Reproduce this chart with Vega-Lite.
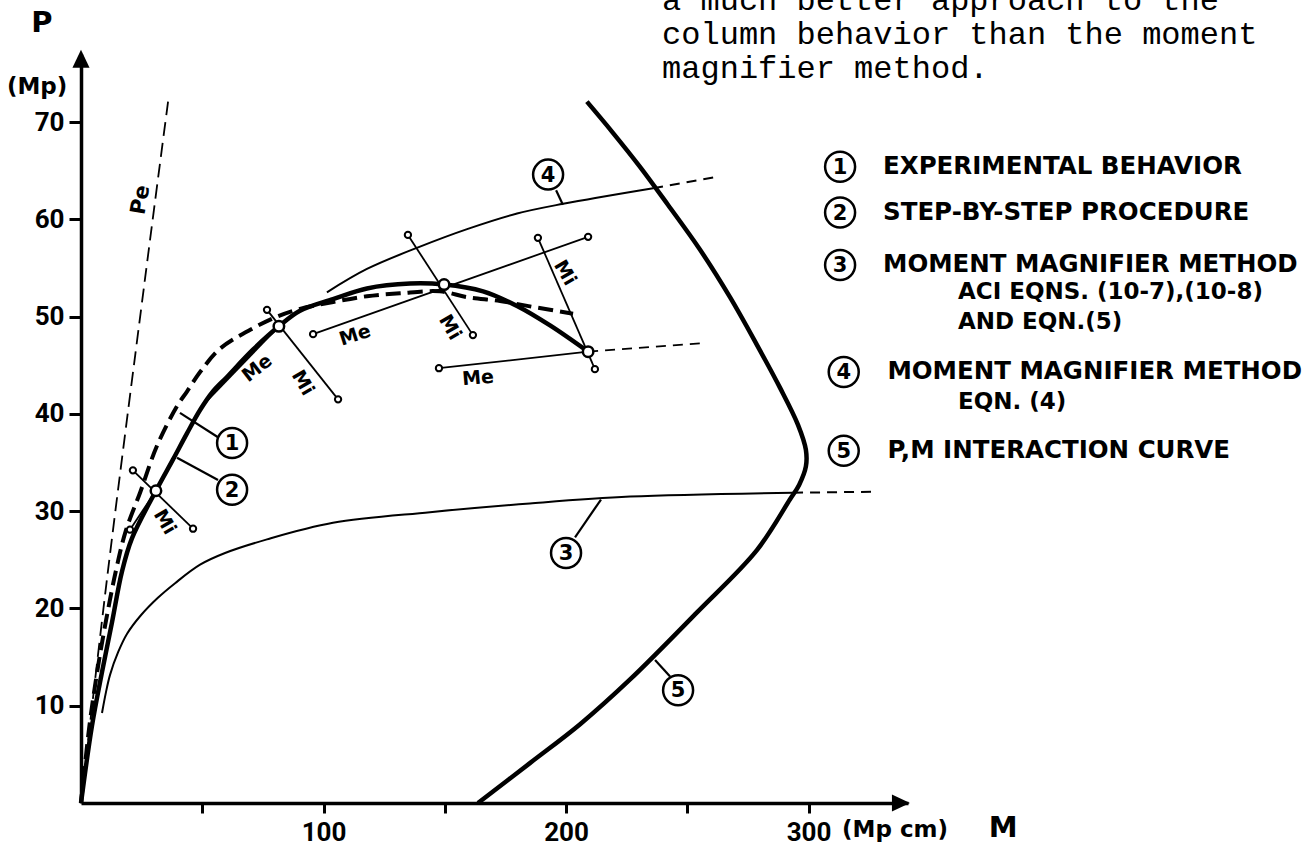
{
  "$schema": "https://vega.github.io/schema/vega-lite/v6.json",
  "width": 827,
  "height": 749,
  "autosize": "none",
  "padding": {"left": 81, "top": 54, "right": 408, "bottom": 43},
  "background": "white",
  "config": {"view": {"stroke": null}, "font": "Roboto"},
  "datasets": {
    "curves": [
      {"s": "pe", "o": 0, "x": 0, "y": 0}, {"s": "pe", "o": 1, "x": 10.7, "y": 23}, {"s": "pe", "o": 2, "x": 26.4, "y": 53.9}, {"s": "pe", "o": 3, "x": 35.9, "y": 72.1},
      {"s": "exp", "o": 0, "x": 0, "y": 0}, {"s": "exp", "o": 1, "x": 3.5, "y": 8}, {"s": "exp", "o": 2, "x": 7, "y": 14}, {"s": "exp", "o": 3, "x": 10.5, "y": 19}, {"s": "exp", "o": 4, "x": 14.5, "y": 24}, {"s": "exp", "o": 5, "x": 18.5, "y": 28}, {"s": "exp", "o": 6, "x": 24.5, "y": 32}, {"s": "exp", "o": 7, "x": 31.3, "y": 36.7}, {"s": "exp", "o": 8, "x": 39.6, "y": 40.8}, {"s": "exp", "o": 9, "x": 43.7, "y": 42.3}, {"s": "exp", "o": 10, "x": 49.1, "y": 44.3}, {"s": "exp", "o": 11, "x": 57.3, "y": 46.7}, {"s": "exp", "o": 12, "x": 70.9, "y": 48.8}, {"s": "exp", "o": 13, "x": 80.8, "y": 50.0}, {"s": "exp", "o": 14, "x": 90.3, "y": 50.8}, {"s": "exp", "o": 15, "x": 104, "y": 51.5}, {"s": "exp", "o": 16, "x": 117.9, "y": 52.1}, {"s": "exp", "o": 17, "x": 131.5, "y": 52.4}, {"s": "exp", "o": 18, "x": 148, "y": 52.6}, {"s": "exp", "o": 19, "x": 159.2, "y": 52.0}, {"s": "exp", "o": 20, "x": 172.8, "y": 51.6}, {"s": "exp", "o": 21, "x": 186.4, "y": 51.0}, {"s": "exp", "o": 22, "x": 202.9, "y": 50.3},
      {"s": "step", "o": 0, "x": 0, "y": 0}, {"s": "step", "o": 1, "x": 4.5, "y": 7.9}, {"s": "step", "o": 2, "x": 8.7, "y": 13.5}, {"s": "step", "o": 3, "x": 12.8, "y": 18.6}, {"s": "step", "o": 4, "x": 16.9, "y": 23.8}, {"s": "step", "o": 5, "x": 21.0, "y": 27.2}, {"s": "step", "o": 6, "x": 30.9, "y": 32.1}, {"s": "step", "o": 7, "x": 37.9, "y": 35.3}, {"s": "step", "o": 8, "x": 43.7, "y": 38.0}, {"s": "step", "o": 9, "x": 49.1, "y": 40.4}, {"s": "step", "o": 10, "x": 54.4, "y": 42.3}, {"s": "step", "o": 11, "x": 60.2, "y": 43.8}, {"s": "step", "o": 12, "x": 70.9, "y": 46.6}, {"s": "step", "o": 13, "x": 81.6, "y": 49.0}, {"s": "step", "o": 14, "x": 90.3, "y": 50.6}, {"s": "step", "o": 15, "x": 103.9, "y": 51.8}, {"s": "step", "o": 16, "x": 117.9, "y": 52.9}, {"s": "step", "o": 17, "x": 135.7, "y": 53.4}, {"s": "step", "o": 18, "x": 149.7, "y": 53.3}, {"s": "step", "o": 19, "x": 165.8, "y": 52.6}, {"s": "step", "o": 20, "x": 179.8, "y": 51.1}, {"s": "step", "o": 21, "x": 193.4, "y": 49.1}, {"s": "step", "o": 22, "x": 209.1, "y": 46.4},
      {"s": "c3", "o": 0, "x": 8.66, "y": 9.25}, {"s": "c3", "o": 1, "x": 10.3, "y": 11.4}, {"s": "c3", "o": 2, "x": 12.0, "y": 13.2}, {"s": "c3", "o": 3, "x": 15.3, "y": 15.5}, {"s": "c3", "o": 4, "x": 19.0, "y": 17.4}, {"s": "c3", "o": 5, "x": 24.7, "y": 19.3}, {"s": "c3", "o": 6, "x": 31.7, "y": 21.1}, {"s": "c3", "o": 7, "x": 38.8, "y": 22.6}, {"s": "c3", "o": 8, "x": 49.1, "y": 24.5}, {"s": "c3", "o": 9, "x": 59.4, "y": 25.7}, {"s": "c3", "o": 10, "x": 76.7, "y": 27.1}, {"s": "c3", "o": 11, "x": 103.9, "y": 28.8}, {"s": "c3", "o": 12, "x": 143.9, "y": 29.9}, {"s": "c3", "o": 13, "x": 185.1, "y": 30.8}, {"s": "c3", "o": 14, "x": 226.4, "y": 31.5}, {"s": "c3", "o": 15, "x": 293.6, "y": 31.9},
      {"s": "c3d", "o": 0, "x": 293.6, "y": 31.9}, {"s": "c3d", "o": 1, "x": 328.2, "y": 32.0},
      {"s": "c4", "o": 0, "x": 101.4, "y": 52.5}, {"s": "c4", "o": 1, "x": 117.9, "y": 54.9}, {"s": "c4", "o": 2, "x": 139.8, "y": 57.2}, {"s": "c4", "o": 3, "x": 159.2, "y": 59.0}, {"s": "c4", "o": 4, "x": 179.8, "y": 60.6}, {"s": "c4", "o": 5, "x": 198.8, "y": 61.6}, {"s": "c4", "o": 6, "x": 235.9, "y": 63.2},
      {"s": "c4d", "o": 0, "x": 235.9, "y": 63.2}, {"s": "c4d", "o": 1, "x": 262.7, "y": 64.4},
      {"s": "c5", "o": 0, "x": 163.7, "y": 0}, {"s": "c5", "o": 1, "x": 185.1, "y": 4.1}, {"s": "c5", "o": 2, "x": 205.8, "y": 8.1}, {"s": "c5", "o": 3, "x": 226.4, "y": 12.7}, {"s": "c5", "o": 4, "x": 254.0, "y": 19.6}, {"s": "c5", "o": 5, "x": 278.7, "y": 26.0}, {"s": "c5", "o": 6, "x": 292.3, "y": 31.2}, {"s": "c5", "o": 7, "x": 296.1, "y": 32.7}, {"s": "c5", "o": 8, "x": 298.9, "y": 34.6}, {"s": "c5", "o": 9, "x": 298.9, "y": 36.3}, {"s": "c5", "o": 10, "x": 295.6, "y": 38.9}, {"s": "c5", "o": 11, "x": 288.2, "y": 42.7}, {"s": "c5", "o": 12, "x": 278.7, "y": 47.1}, {"s": "c5", "o": 13, "x": 267.6, "y": 52.0}, {"s": "c5", "o": 14, "x": 255.2, "y": 56.9}, {"s": "c5", "o": 15, "x": 242.0, "y": 61.5}, {"s": "c5", "o": 16, "x": 230.5, "y": 65.4}, {"s": "c5", "o": 17, "x": 219.0, "y": 69.0}, {"s": "c5", "o": 18, "x": 208.6, "y": 72.1}
    ],
    "segs": [
      {"k": "solid", "x": 21.4, "y": 34.2, "x2": 46.2, "y2": 28.2},
      {"k": "solid", "x": 20.2, "y": 28.1, "x2": 30.9, "y2": 32.1},
      {"k": "solid", "x": 76.7, "y": 50.7, "x2": 106.0, "y2": 41.5},
      {"k": "solid", "x": 49.1, "y": 40.6, "x2": 81.6, "y2": 49.0},
      {"k": "solid", "x": 134.8, "y": 58.4, "x2": 161.6, "y2": 48.1},
      {"k": "solid", "x": 95.7, "y": 48.2, "x2": 209.1, "y2": 58.2},
      {"k": "solid", "x": 188.4, "y": 58.1, "x2": 211.9, "y2": 44.6},
      {"k": "solid", "x": 147.6, "y": 44.7, "x2": 209.1, "y2": 46.4},
      {"k": "dash", "x": 209.1, "y": 46.4, "x2": 257.3, "y2": 47.3},
      {"k": "lead", "x": 56.5, "y": 37.6, "x2": 40.8, "y2": 40.1},
      {"k": "lead", "x": 56.5, "y": 33.2, "x2": 39.6, "y2": 35.5},
      {"k": "lead", "x": 203.7, "y": 27.3, "x2": 214.4, "y2": 31.2},
      {"k": "lead", "x": 195.9, "y": 63.0, "x2": 198.7, "y2": 61.5},
      {"k": "lead", "x": 242.9, "y": 13.0, "x2": 236.7, "y2": 14.7}
    ],
    "dots": [
      {"x": 21.4, "y": 34.2}, {"x": 46.2, "y": 28.2}, {"x": 20.2, "y": 28.1}, {"x": 76.7, "y": 50.7}, {"x": 106.0, "y": 41.5}, {"x": 134.8, "y": 58.4}, {"x": 161.6, "y": 48.1}, {"x": 95.7, "y": 48.2}, {"x": 209.1, "y": 58.2}, {"x": 188.4, "y": 58.1}, {"x": 211.9, "y": 44.6}, {"x": 147.6, "y": 44.7}
    ],
    "bigdots": [
      {"x": 30.9, "y": 32.1}, {"x": 81.6, "y": 49.0}, {"x": 149.7, "y": 53.3}, {"x": 209.1, "y": 46.4}
    ],
    "numbers": [
      {"x": 62.3, "y": 37.0, "t": "1"}, {"x": 62.3, "y": 32.2, "t": "2"}, {"x": 200.0, "y": 25.7, "t": "3"}, {"x": 192.6, "y": 64.6, "t": "4"}, {"x": 246.2, "y": 11.6, "t": "5"},
      {"x": 313.0, "y": 65.4, "t": "1"}, {"x": 313.0, "y": 60.7, "t": "2"}, {"x": 313.0, "y": 55.3, "t": "3"}, {"x": 314.5, "y": 44.3, "t": "4"}, {"x": 314.5, "y": 36.2, "t": "5"}
    ],
    "legend": [
      {"x": 330.7, "y": 65.4, "t": "EXPERIMENTAL  BEHAVIOR"},
      {"x": 330.7, "y": 60.7, "t": "STEP-BY-STEP PROCEDURE"},
      {"x": 330.7, "y": 55.3, "t": "MOMENT MAGNIFIER METHOD"},
      {"x": 332.5, "y": 44.3, "t": "MOMENT MAGNIFIER METHOD"},
      {"x": 332.5, "y": 36.2, "t": "P,M  INTERACTION CURVE"}
    ],
    "legend2": [
      {"x": 361.6, "y": 52.5, "t": "ACI EQNS. (10-7),(10-8)"},
      {"x": 361.6, "y": 49.5, "t": "AND EQN.(5)"},
      {"x": 361.6, "y": 41.2, "t": "EQN. (4)"}
    ],
    "para": [
      {"x": 239.6, "y": 81.5, "t": "a much better approach to the"},
      {"x": 239.6, "y": 78.0, "t": "column behavior than the moment"},
      {"x": 239.6, "y": 74.5, "t": "magnifier method."}
    ],
    "mi": [
      {"x": 34.6, "y": 28.9, "t": "Mi"}, {"x": 91.5, "y": 43.2, "t": "Mi"}, {"x": 152.2, "y": 48.9, "t": "Mi"}, {"x": 199.6, "y": 54.5, "t": "Mi"}
    ],
    "me1": [{"x": 72.6, "y": 44.7, "t": "Me"}],
    "me2": [{"x": 113.0, "y": 48.1, "t": "Me"}],
    "me3": [{"x": 163.7, "y": 43.7, "t": "Me"}],
    "pe": [{"x": 24.7, "y": 62.0, "t": "Pe"}],
    "titles": [
      {"x": -16.1, "y": 80.2, "t": "P", "k": "big"},
      {"x": -18.1, "y": 73.6, "t": "(Mp)", "k": "small"},
      {"x": 380.2, "y": -2.6, "t": "M", "k": "big"}
    ],
    "unit": [{"x": 313.8, "y": -2.8, "t": "(Mp cm)"}],
    "arrows": [{"x": 0, "y": 76.5, "k": "up"}, {"x": 338.1, "y": 0, "k": "right"}]
  },
  "encoding": {
    "x": {
      "field": "x", "type": "quantitative",
      "scale": {"domain": [0, 341], "nice": false, "zero": false},
      "axis": {
        "values": [50, 100, 150, 200, 250, 300],
        "labelExpr": "datum.value % 100 === 0 ? datum.label : ''",
        "title": null, "grid": false,
        "domainWidth": 3.5, "domainColor": "black",
        "tickColor": "black", "tickWidth": 3, "tickSize": 10,
        "labelFont": "Roboto", "labelFontWeight": "bold", "labelFontSize": 26,
        "labelColor": "black", "labelPadding": 6
      }
    },
    "y": {
      "field": "y", "type": "quantitative",
      "scale": {"domain": [0, 77], "nice": false, "zero": false},
      "axis": {
        "values": [10, 20, 30, 40, 50, 60, 70],
        "title": null, "grid": false,
        "domainWidth": 3.5, "domainColor": "black",
        "tickColor": "black", "tickWidth": 3, "tickSize": 12,
        "labelFont": "Roboto", "labelFontWeight": "bold", "labelFontSize": 26,
        "labelColor": "black", "labelPadding": 5
      }
    }
  },
  "layer": [
    {"data": {"name": "curves"}, "transform": [{"filter": "datum.s === 'pe'"}], "mark": {"type": "line", "color": "black", "strokeWidth": 1.8, "strokeDash": [14, 7], "interpolate": "catmull-rom"}, "encoding": {"order": {"field": "o", "type": "quantitative"}}},
    {"data": {"name": "curves"}, "transform": [{"filter": "datum.s === 'exp'"}], "mark": {"type": "line", "color": "black", "strokeWidth": 4, "strokeDash": [15, 7], "interpolate": "catmull-rom"}, "encoding": {"order": {"field": "o", "type": "quantitative"}}},
    {"data": {"name": "curves"}, "transform": [{"filter": "datum.s === 'step'"}], "mark": {"type": "line", "color": "black", "strokeWidth": 4.5, "interpolate": "catmull-rom"}, "encoding": {"order": {"field": "o", "type": "quantitative"}}},
    {"data": {"name": "curves"}, "transform": [{"filter": "datum.s === 'c3' || datum.s === 'c4'"}], "mark": {"type": "line", "color": "black", "strokeWidth": 2, "interpolate": "catmull-rom"}, "encoding": {"order": {"field": "o", "type": "quantitative"}, "detail": {"field": "s"}}},
    {"data": {"name": "curves"}, "transform": [{"filter": "datum.s === 'c3d' || datum.s === 'c4d'"}], "mark": {"type": "line", "color": "black", "strokeWidth": 2, "strokeDash": [10, 7]}, "encoding": {"order": {"field": "o", "type": "quantitative"}, "detail": {"field": "s"}}},
    {"data": {"name": "curves"}, "transform": [{"filter": "datum.s === 'c5'"}], "mark": {"type": "line", "color": "black", "strokeWidth": 4.5, "interpolate": "catmull-rom"}, "encoding": {"order": {"field": "o", "type": "quantitative"}}},
    {"data": {"name": "segs"}, "transform": [{"filter": "datum.k === 'solid'"}], "mark": {"type": "rule", "color": "black", "strokeWidth": 1.8}, "encoding": {"x2": {"field": "x2"}, "y2": {"field": "y2"}}},
    {"data": {"name": "segs"}, "transform": [{"filter": "datum.k === 'dash'"}], "mark": {"type": "rule", "color": "black", "strokeWidth": 1.8, "strokeDash": [10, 7]}, "encoding": {"x2": {"field": "x2"}, "y2": {"field": "y2"}}},
    {"data": {"name": "segs"}, "transform": [{"filter": "datum.k === 'lead'"}], "mark": {"type": "rule", "color": "black", "strokeWidth": 2.2}, "encoding": {"x2": {"field": "x2"}, "y2": {"field": "y2"}}},
    {"data": {"name": "dots"}, "mark": {"type": "circle", "fill": "white", "stroke": "black", "strokeWidth": 2, "size": 40, "opacity": 1}},
    {"data": {"name": "bigdots"}, "mark": {"type": "circle", "fill": "white", "stroke": "black", "strokeWidth": 2.5, "size": 110, "opacity": 1}},
    {"data": {"name": "numbers"}, "mark": {"type": "circle", "fill": "white", "stroke": "black", "strokeWidth": 2.5, "size": 900, "opacity": 1}},
    {"data": {"name": "numbers"}, "mark": {"type": "text", "font": "DejaVu Sans", "fontWeight": "bold", "fontSize": 21, "align": "center", "baseline": "middle", "color": "black", "dy": 1}, "encoding": {"text": {"field": "t"}}},
    {"data": {"name": "legend"}, "mark": {"type": "text", "font": "DejaVu Sans", "fontWeight": "bold", "fontSize": 24.5, "align": "left", "baseline": "middle", "color": "black"}, "encoding": {"text": {"field": "t"}}},
    {"data": {"name": "legend2"}, "mark": {"type": "text", "font": "DejaVu Sans", "fontWeight": "bold", "fontSize": 23, "align": "left", "baseline": "middle", "color": "black"}, "encoding": {"text": {"field": "t"}}},
    {"data": {"name": "para"}, "mark": {"type": "text", "font": "Liberation Mono", "fontSize": 32, "align": "left", "baseline": "alphabetic", "color": "black"}, "encoding": {"text": {"field": "t"}}},
    {"data": {"name": "mi"}, "mark": {"type": "text", "font": "DejaVu Sans", "fontWeight": "bold", "fontSize": 19, "angle": 60, "align": "center", "baseline": "middle", "color": "black"}, "encoding": {"text": {"field": "t"}}},
    {"data": {"name": "me1"}, "mark": {"type": "text", "font": "DejaVu Sans", "fontWeight": "bold", "fontSize": 19, "angle": -38, "align": "center", "baseline": "middle", "color": "black"}, "encoding": {"text": {"field": "t"}}},
    {"data": {"name": "me2"}, "mark": {"type": "text", "font": "DejaVu Sans", "fontWeight": "bold", "fontSize": 19, "angle": -18, "align": "center", "baseline": "middle", "color": "black"}, "encoding": {"text": {"field": "t"}}},
    {"data": {"name": "me3"}, "mark": {"type": "text", "font": "DejaVu Sans", "fontWeight": "bold", "fontSize": 19, "angle": -5, "align": "center", "baseline": "middle", "color": "black"}, "encoding": {"text": {"field": "t"}}},
    {"data": {"name": "pe"}, "mark": {"type": "text", "font": "DejaVu Sans", "fontWeight": "bold", "fontSize": 21, "angle": -80, "align": "center", "baseline": "middle", "color": "black"}, "encoding": {"text": {"field": "t"}}},
    {"data": {"name": "titles"}, "transform": [{"filter": "datum.k === 'big'"}], "mark": {"type": "text", "font": "DejaVu Sans", "fontWeight": "bold", "fontSize": 29, "align": "center", "baseline": "middle", "color": "black"}, "encoding": {"text": {"field": "t"}}},
    {"data": {"name": "titles"}, "transform": [{"filter": "datum.k === 'small'"}], "mark": {"type": "text", "font": "DejaVu Sans", "fontWeight": "bold", "fontSize": 23, "align": "center", "baseline": "middle", "color": "black"}, "encoding": {"text": {"field": "t"}}},
    {"data": {"name": "unit"}, "mark": {"type": "text", "font": "DejaVu Sans", "fontWeight": "bold", "fontSize": 23, "align": "left", "baseline": "middle", "color": "black"}, "encoding": {"text": {"field": "t"}}},
    {"data": {"name": "arrows"}, "transform": [{"filter": "datum.k === 'up'"}], "mark": {"type": "point", "shape": "M-0.95,1L0,-1L0.95,1Z", "size": 324, "filled": true, "color": "black", "opacity": 1}},
    {"data": {"name": "arrows"}, "transform": [{"filter": "datum.k === 'right'"}], "mark": {"type": "point", "shape": "M-1,-0.95L1,0L-1,0.95Z", "size": 324, "filled": true, "color": "black", "opacity": 1}}
  ]
}
